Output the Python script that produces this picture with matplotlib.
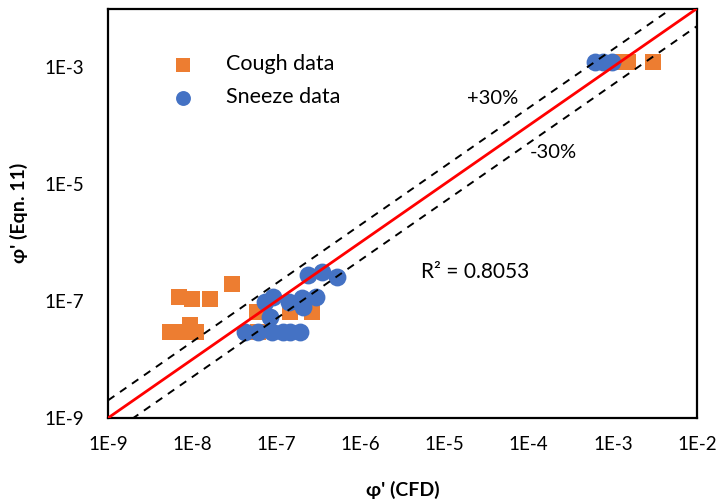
import matplotlib
matplotlib.use("Agg")
import matplotlib.pyplot as plt
import numpy as np

plt.rcParams['font.family'] = ['Lato', 'DejaVu Sans']

cough_x = [5.5e-9, 6.8e-9, 8.5e-9, 1.1e-8, 9.4e-9, 6.9e-9, 9.9e-9, 1.63e-8, 3.0e-8,
           5.9e-8, 1.46e-7, 2.64e-7, 6.0e-8, 1.22e-3, 1.52e-3, 3.0e-3]
cough_y = [3.0e-8, 3.0e-8, 3.0e-8, 3.0e-8, 3.9e-8, 1.19e-7, 1.07e-7, 1.07e-7, 1.95e-7,
           6.6e-8, 6.6e-8, 6.6e-8, 3.0e-8, 1.23e-3, 1.23e-3, 1.23e-3]

sneeze_x = [2.41e-7, 3.47e-7, 5.24e-7, 7.36e-8, 9.2e-8, 1.42e-7, 2.01e-7, 3.0e-7, 2.07e-7,
            8.4e-8, 4.26e-8, 6.1e-8, 8.9e-8, 1.2e-7, 1.46e-7, 1.92e-7,
            6.2e-4, 7.7e-4, 9.7e-4]
sneeze_y = [2.78e-7, 3.17e-7, 2.6e-7, 9.7e-8, 1.19e-7, 9.6e-8, 1.11e-7, 1.19e-7, 8.0e-8,
            5.4e-8, 3.0e-8, 3.0e-8, 3.0e-8, 3.0e-8, 3.0e-8, 3.0e-8,
            1.23e-3, 1.23e-3, 1.23e-3]

xticks = [1e-9, 1e-8, 1e-7, 1e-6, 1e-5, 1e-4, 1e-3, 1e-2]
xticklabels = ['1E-9', '1E-8', '1E-7', '1E-6', '1E-5', '1E-4', '1E-3', '1E-2']
yticks = [1e-9, 1e-7, 1e-5, 1e-3]
yticklabels = ['1E-9', '1E-7', '1E-5', '1E-3']

line_x = [1e-9, 1e-2]
upper_factor = 2.0
lower_factor = 0.5

fig = plt.figure(figsize=(7.21, 5.04), dpi=100)
ax = fig.add_axes([108/721, 1-418/504, (697-108)/721, (418-8.5)/504])
ax.set_xscale('log')
ax.set_yscale('log')
ax.set_xlim(1e-9, 1e-2)
ax.set_ylim(1e-9, 1e-2)

ax.scatter(cough_x, cough_y, marker='s', s=120, color='#ED7D31', linewidths=0, zorder=2,
           label='Cough data')
ax.scatter(sneeze_x, sneeze_y, marker='o', s=165, color='#4472C4', linewidths=0, zorder=3,
           label='Sneeze data')

lx = np.array(line_x)
ax.plot(lx, lx, color='#FF0000', lw=2, zorder=5)
ax.plot(lx, lx * upper_factor, color='black', lw=1.4, ls=(0, (4, 3.5)), zorder=4)
ax.plot(lx, lx * lower_factor, color='black', lw=1.4, ls=(0, (4, 3.5)), zorder=4)

ax.xaxis.set_major_locator(matplotlib.ticker.FixedLocator(xticks))
ax.xaxis.set_minor_locator(matplotlib.ticker.NullLocator())
ax.set_xticklabels(xticklabels)
ax.yaxis.set_major_locator(matplotlib.ticker.FixedLocator(yticks))
ax.yaxis.set_minor_locator(matplotlib.ticker.NullLocator())
ax.set_yticklabels(yticklabels)
ax.tick_params(axis='both', length=0, labelsize=13.5, colors='black')
ax.tick_params(axis='x', pad=13)
ax.tick_params(axis='y', pad=17)

for sp in ax.spines.values():
    sp.set_linewidth(1.6)
    sp.set_color('black')

ax.set_xlabel("φ' (CFD)", fontsize=14, fontweight='bold', labelpad=20)
ax.set_ylabel("φ' (Eqn. 11)", fontsize=14, fontweight='bold', labelpad=12)

leg = ax.legend(loc='upper left', bbox_to_anchor=(0.058, 0.935), frameon=False, fontsize=15.5,
                handletextpad=1.0, labelspacing=0.6, scatterpoints=1)
for h in leg.legend_handles:
    h.set_sizes([115])

ax.text(493/721, 1-99/504, '+30%', transform=fig.transFigure, fontsize=14.5,
        ha='center', va='center')
ax.text(553/721, 1-153/504, '-30%', transform=fig.transFigure, fontsize=14.5,
        ha='center', va='center')
ax.text(475/721, 1-272/504, 'R² = 0.8053', transform=fig.transFigure, fontsize=15,
        ha='center', va='center')

fig.savefig('out.png', dpi=100)
